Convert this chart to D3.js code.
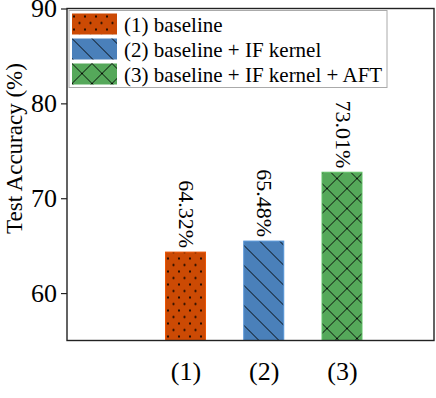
<!DOCTYPE html>
<html>
<head>
<meta charset="utf-8">
<script src="https://cdn.jsdelivr.net/npm/d3@7"></script>
<style>
  html, body { margin: 0; padding: 0; background: #fff; }
  text { font-family: "Liberation Serif", "DejaVu Serif", serif; fill: #000; }
</style>
</head>
<body>
<div id="chart"></div>
<script>
// data
var categories = ["(1)", "(2)", "(3)"];
var accuracy = [64.32, 65.48, 72.74];
var accuracyLabels = ["64.32%", "65.48%", "73.01%"];
var legendNames = ["(1) baseline", "(2) baseline + IF kernel", "(3) baseline + IF kernel + AFT"];
var yTicks = [60, 70, 80, 90];

var colors = ["#cc4a04", "#4a80ba", "#55a85a"];
var hatchIds = ["hatchDots", "hatchBack", "hatchCross"];

var outterWidth = 436;
var outterHeight = 398;
var margin = {top: 8.5, right: 2, bottom: 57.5, left: 67};
var width = outterWidth - margin.left - margin.right;
var height = outterHeight - margin.top - margin.bottom;

var svg = d3.select("#chart").append("svg")
  .attr("width", outterWidth)
  .attr("height", outterHeight);

// hatch patterns
var defs = svg.append("defs");

var dots = defs.append("pattern").attr("id", "hatchDots")
  .attr("patternUnits", "userSpaceOnUse")
  .attr("width", 11).attr("height", 13);
dots.append("circle").attr("cx", 2).attr("cy", 3).attr("r", 1.1).style("fill", "#000");
dots.append("circle").attr("cx", 7.5).attr("cy", 9.5).attr("r", 1.1).style("fill", "#000");

var back = defs.append("pattern").attr("id", "hatchBack")
  .attr("patternUnits", "userSpaceOnUse")
  .attr("width", 20).attr("height", 20);
back.append("path")
  .attr("d", "M0,0L20,20M-5,15L5,25M15,-5L25,5")
  .style("stroke", "#000").style("stroke-width", 0.9);

var cross = defs.append("pattern").attr("id", "hatchCross")
  .attr("patternUnits", "userSpaceOnUse")
  .attr("width", 20).attr("height", 20);
cross.append("path")
  .attr("d", "M0,0L20,20M-5,15L5,25M15,-5L25,5M20,0L0,20M-5,5L5,-5M15,25L25,15")
  .style("stroke", "#000").style("stroke-width", 0.9);

var g = svg.append("g")
  .attr("transform", "translate(" + margin.left + "," + margin.top + ")");

var x = d3.scalePoint().domain(categories).range([118.5, 275]);
var barWidth = 40;
var y = d3.scaleLinear().domain([55, 90]).range([height, 0]);

// bars
var bars = g.selectAll(".bar").data(categories).enter().append("g").attr("class", "bar");
bars.append("rect")
  .attr("x", function(d) { return x(d) - barWidth / 2; })
  .attr("y", function(d, i) { return y(accuracy[i]); })
  .attr("width", barWidth)
  .attr("height", function(d, i) { return height - y(accuracy[i]); })
  .style("fill", function(d, i) { return colors[i]; });
bars.append("rect")
  .attr("x", function(d) { return x(d) - barWidth / 2; })
  .attr("y", function(d, i) { return y(accuracy[i]); })
  .attr("width", barWidth)
  .attr("height", function(d, i) { return height - y(accuracy[i]); })
  .style("fill", function(d, i) { return "url(#" + hatchIds[i] + ")"; })
  .style("stroke", function(d, i) { return d3.color(colors[i]).brighter(0.4); })
  .style("stroke-width", 1);

// value labels, rotated
bars.append("text")
  .attr("transform", function(d, i) {
    return "translate(" + (x(d) + 1) + "," + (y(accuracy[i]) - 4) + ") rotate(90)";
  })
  .attr("text-anchor", "end")
  .attr("dominant-baseline", "central")
  .attr("font-size", "22px")
  .text(function(d, i) { return accuracyLabels[i]; });

// y axis
var yAxis = g.append("g")
  .call(d3.axisLeft(y).tickValues(yTicks).tickSize(6).tickPadding(4).tickFormat(d3.format("d")));
yAxis.select(".domain").remove();
yAxis.selectAll(".tick line").style("stroke", "#222").style("stroke-width", 1.2);
yAxis.selectAll(".tick text")
  .attr("font-size", "26px")
  .attr("font-family", "Liberation Serif")
  .style("fill", "#000");

// x axis labels
var xAxis = g.append("g")
  .attr("transform", "translate(0," + height + ")")
  .call(d3.axisBottom(x).tickSize(0).tickPadding(21));
xAxis.select(".domain").remove();
xAxis.selectAll(".tick text")
  .attr("font-size", "26px")
  .attr("font-family", "Liberation Serif")
  .style("fill", "#000");

// frame
g.append("rect")
  .attr("x", 0).attr("y", 0)
  .attr("width", width).attr("height", height)
  .style("fill", "none")
  .style("stroke", "#222")
  .style("stroke-width", 1.4);

// y label
svg.append("text")
  .attr("transform", "translate(14," + (margin.top + 140) + ") rotate(-90)")
  .attr("text-anchor", "middle")
  .attr("dominant-baseline", "central")
  .attr("font-size", "23px")
  .text("Test Accuracy (%)");

// legend
var legend = g.append("g").attr("transform", "translate(2,2)");
legend.append("rect")
  .attr("x", 0).attr("y", 0)
  .attr("width", 318).attr("height", 77)
  .style("fill", "#fff")
  .style("stroke", "#aaa")
  .style("stroke-width", 1);

var items = legend.selectAll(".item").data(legendNames).enter().append("g")
  .attr("class", "item")
  .attr("transform", function(d, i) { return "translate(3," + (3 + i * 25) + ")"; });
items.append("rect")
  .attr("width", 45).attr("height", 21)
  .style("fill", function(d, i) { return colors[i]; });
items.append("rect")
  .attr("width", 45).attr("height", 21)
  .style("fill", function(d, i) { return "url(#" + hatchIds[i] + ")"; });
items.append("text")
  .attr("x", 52).attr("y", 11)
  .attr("dominant-baseline", "central")
  .attr("font-size", "21px")
  .text(function(d) { return d; });
</script>
</body>
</html>
